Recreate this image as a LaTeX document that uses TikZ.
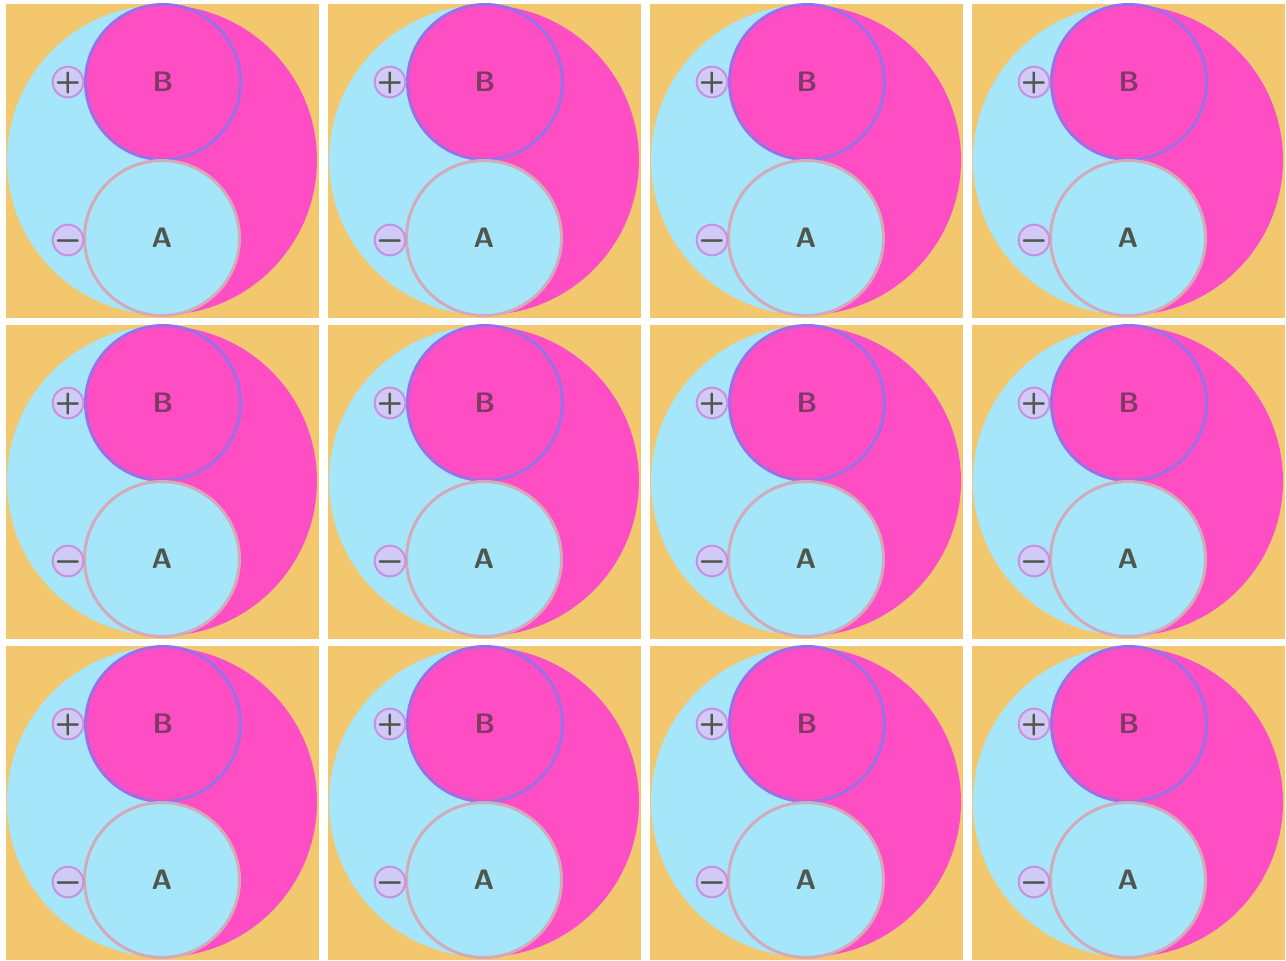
\documentclass[tikz,border=0pt]{standalone}
\usepackage{tikz}
\definecolor{Sand}{HTML}{F2C76E}
\definecolor{Sky}{HTML}{A5E6FA}
\definecolor{Rose}{HTML}{FF4DC4}
\definecolor{Violet}{HTML}{9B6FE8}
\definecolor{Mauve}{HTML}{D4A9B9}
\definecolor{Orchid}{HTML}{C890E0}
\definecolor{Lilac}{HTML}{CFCBF6}
\definecolor{Plum}{HTML}{7E3A62}
\definecolor{Slate}{HTML}{4F564E}

\begin{document}
\begin{tikzpicture}[x=0.1mm, y=0.1mm,
  tile/.style={fill=Sand},
  bdisc/.style={circle, draw=Violet, line width=0.3mm, fill=Rose,
     minimum size=15.5mm, inner sep=0pt, text=Plum,
     font=\sffamily\bfseries\fontsize{8}{9}\selectfont},
  adisc/.style={circle, draw=Mauve, line width=0.3mm, fill=Sky,
     minimum size=15.5mm, inner sep=0pt, text=Slate,
     font=\sffamily\bfseries\fontsize{8}{9}\selectfont},
  sign/.style={circle, draw=Orchid, line width=0.2mm, fill=Lilac,
     text width=2.6mm, align=center, text height=1.9mm, text depth=0.3mm,
     inner sep=-0.12mm, text=Slate,
     font=\sffamily\bfseries\fontsize{8.5}{9}\selectfont}]
  \useasboundingbox (0,0) rectangle (1286,-960);
  \foreach \r in {0,1,2}{\foreach \c in {0,1,2,3}{
      \pgfmathtruncatemacro{\id}{\r*4+\c}
      \pgfmathsetmacro{\tx}{6+322*\c}
      \pgfmathsetmacro{\ty}{-4-321*\r}
      \begin{scope}[shift={(\tx,\ty)}]
        % sand tile, then the two halves of the disc
        \fill[tile] (0,0) rectangle (313,-314);
        \fill[Sky] (156,-156) circle[radius=155];
        \fill[Rose] (156,-1) arc[start angle=90, end angle=-90, radius=155] -- cycle;
        \node[bdisc] (b\id) at (157,-78) {B};
        \node[adisc] (a\id) at (156,-234) {A};
        \node[sign] (p\id) at (62,-78) {+};
        \node[sign] (m\id) at (62,-236) {\textminus};
      \end{scope}}}
\end{tikzpicture}
\end{document}
